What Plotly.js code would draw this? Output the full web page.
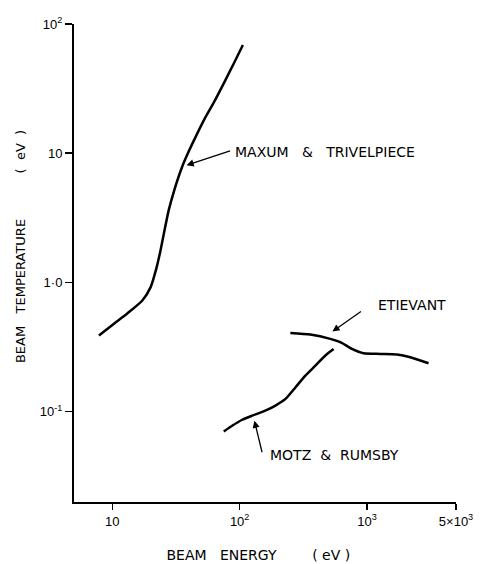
<!DOCTYPE html>
<html>
<head>
<meta charset="utf-8">
<script src="https://cdn.plot.ly/plotly-3.0.1.min.js"></script>
<style>html,body{margin:0;padding:0;background:#fff;}#chart{width:482px;height:564px;}</style>
</head>
<body>
<div id="chart"></div>
<script>
// Beam energy (eV) and beam temperature (eV)
const maxumEnergy = [7.85, 10.3, 13.1, 17.2, 20.0, 22.2, 23.9, 25.7, 27.7, 30.8, 35.0, 39.6, 45.8, 53.9, 63.5, 75.0, 89.9, 106];
const maxumTemp   = [0.388, 0.479, 0.575, 0.725, 0.92, 1.29, 1.77, 2.53, 3.61, 5.26, 7.66, 10.2, 13.8, 19.0, 25.3, 34.7, 49.5, 68.7];

const etievantEnergy = [250, 359, 515, 617, 762, 940, 1271, 1718, 2186, 3043];
const etievantTemp   = [0.407, 0.395, 0.366, 0.345, 0.306, 0.283, 0.280, 0.277, 0.264, 0.237];

const motzEnergy = [75.0, 87.3, 104.6, 125.4, 159, 191, 229, 274, 328, 393, 471, 547];
const motzTemp   = [0.0703, 0.0778, 0.0866, 0.0931, 0.1018, 0.1114, 0.1255, 0.154, 0.190, 0.227, 0.272, 0.305];

const xTickVals = [10, 100, 1000, 5000];
const xTickText = ['10', '10<sup>2</sup>', '10<sup>3</sup>', '5\u00d710<sup>3</sup>'];
const yTickVals = [0.1, 1, 10, 100];
const yTickText = ['10<sup>-1</sup>', '1\u00b70', '10', '10<sup>2</sup>'];

const labelFont = {family: 'DejaVu Sans', size: 14, color: '#000'};
const lineStyle = {color: '#000', width: 2.5, shape: 'spline', smoothing: 0.6};

const traces = [
  {x: maxumEnergy, y: maxumTemp, mode: 'lines', line: lineStyle, name: 'Maxum & Trivelpiece', showlegend: false, hoverinfo: 'x+y'},
  {x: etievantEnergy, y: etievantTemp, mode: 'lines', line: lineStyle, name: 'Etievant', showlegend: false, hoverinfo: 'x+y'},
  {x: motzEnergy, y: motzTemp, mode: 'lines', line: lineStyle, name: 'Motz & Rumsby', showlegend: false, hoverinfo: 'x+y'}
];

const nb = '\u00a0';
const zw = '\u200b';
const arrowBase = {showarrow: true, arrowhead: 2, arrowsize: 1.1, arrowwidth: 1.3, arrowcolor: '#000', text: '', axref: 'pixel', ayref: 'pixel'};
const labelBase = {showarrow: false, xanchor: 'left', yanchor: 'middle', font: labelFont};

const layout = {
  width: 482, height: 564,
  margin: {l: 74, r: 26, t: 24, b: 62},
  paper_bgcolor: '#fff', plot_bgcolor: '#fff',
  showlegend: false,
  font: {family: 'DejaVu Sans', color: '#000'},
  xaxis: {
    type: 'log', range: [Math.log10(5), Math.log10(5000)],
    tickmode: 'array', tickvals: xTickVals, ticktext: xTickText,
    ticks: 'outside', ticklen: 6, tickwidth: 1.5, tickcolor: '#000',
    showline: true, linecolor: '#000', linewidth: 2, mirror: false,
    showgrid: false, zeroline: false,
    tickfont: {family: 'Liberation Sans', size: 13, color: '#000'},
    title: {text: 'BEAM' + nb.repeat(3) + 'ENERGY' + nb.repeat(8) + '(' + nb + 'eV' + nb + ')' + nb.repeat(3) + zw, font: labelFont, standoff: 23}
  },
  yaxis: {
    type: 'log', range: [Math.log10(0.02), 2],
    tickmode: 'array', tickvals: yTickVals, ticktext: yTickText,
    ticks: 'outside', ticklen: 7, tickwidth: 1.5, tickcolor: '#000',
    showline: true, linecolor: '#000', linewidth: 2, mirror: false,
    showgrid: false, zeroline: false,
    tickfont: {family: 'Liberation Sans', size: 13, color: '#000'},
    title: {text: zw + nb.repeat(8) + 'BEAM' + nb.repeat(3) + 'TEMPERATURE' + nb.repeat(11) + '(' + nb.repeat(2) + 'eV' + nb.repeat(2) + ')', font: {family: 'DejaVu Sans', size: 13, color: '#000'}, standoff: 11}
  },
  annotations: [
    Object.assign({}, arrowBase, {x: Math.log10(38.3), y: Math.log10(8.07), ax: 45, ay: -15}),
    Object.assign({}, labelBase, {x: Math.log10(87.9), y: Math.log10(10.2), text: 'MAXUM' + nb.repeat(3) + '&' + nb.repeat(3) + 'TRIVELPIECE'}),
    Object.assign({}, arrowBase, {x: Math.log10(535), y: Math.log10(0.417), ax: 30, ay: -21}),
    Object.assign({}, labelBase, {x: Math.log10(1183), y: Math.log10(0.664), text: 'ETIEVANT'}),
    Object.assign({}, arrowBase, {x: Math.log10(130.6), y: Math.log10(0.0851), ax: 8, ay: 33}),
    Object.assign({}, labelBase, {x: Math.log10(168.3), y: Math.log10(0.0464), text: 'MOTZ' + nb.repeat(2) + '&' + nb.repeat(2) + 'RUMSBY'})
  ]
};

Plotly.newPlot('chart', traces, layout, {staticPlot: true, displayModeBar: false});
</script>
</body>
</html>
